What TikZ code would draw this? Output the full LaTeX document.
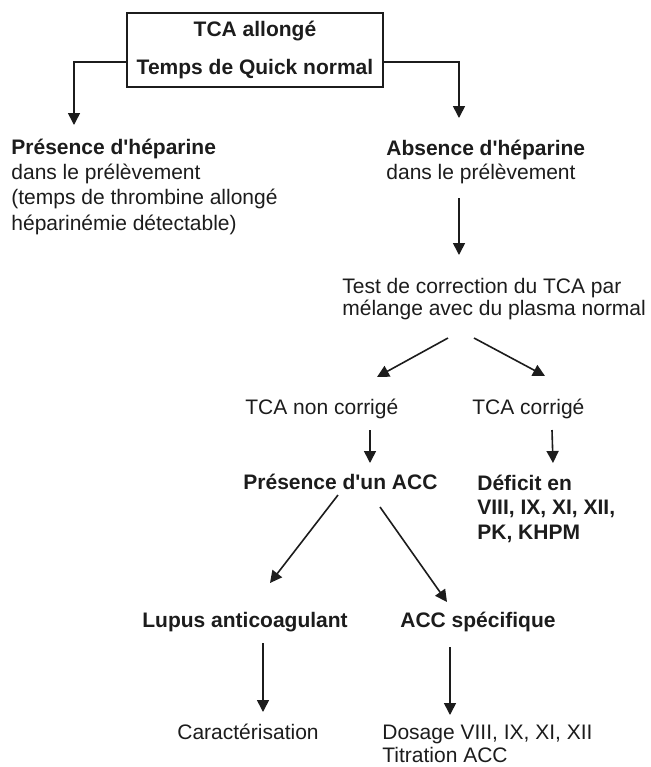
\documentclass[tikz,border=0pt]{standalone}
\usepackage{fontspec}
\setmainfont{Liberation Sans}[Ligatures=TeXOff]
\usetikzlibrary{positioning, calc, arrows.meta}
\definecolor{ink}{RGB}{28,28,28}

\begin{document}
\begin{tikzpicture}[x=0.5pt, y=-0.5pt,
	every node/.style={font=\fontsize{10.5}{11.5}\selectfont, inner sep=0pt, text=ink},
	txt/.style={anchor=base west, align=left},
	arr/.style={draw=ink, line width=0.8pt, -{Triangle[length=6pt, width=6pt]}}]
	\useasboundingbox (0, 0) rectangle (650, 767);
	\node[draw=ink, line width=0.75pt, minimum width=128pt, minimum height=37pt, align=center, font=\fontsize{10.5}{11.5}\selectfont\bfseries]
		(top) at (255, 50) {TCA allongé\\[7.5pt]Temps de Quick normal};
	\node[txt, font=\fontsize{10.5}{12.65}\selectfont] (pres) at (11, 230) {\textbf{Présence d'héparine}\\dans le prélèvement\\(temps de thrombine allongé\\héparinémie détectable)};
	\node[txt, font=\fontsize{10.5}{12}\selectfont] (abs) at (386, 179) {\textbf{Absence d'héparine}\\dans le prélèvement};
	\node[txt, font=\fontsize{10.5}{11}\selectfont] (test) at (342, 315) {Test de correction du TCA par\\mélange avec du plasma normal};
	\node[txt] (nc) at (245, 414) {TCA non corrigé};
	\node[txt] (cor) at (472, 414) {TCA corrigé};
	\node[txt, font=\fontsize{10.5}{11.5}\selectfont\bfseries] (acc) at (243, 489) {Présence d'un ACC};
	\node[txt, font=\fontsize{10.5}{12.2}\selectfont\bfseries] (def) at (477, 539) {Déficit en\\VIII, IX, XI, XII,\\PK, KHPM};
	\node[txt, font=\fontsize{10.5}{11.5}\selectfont\bfseries] (lupus) at (142, 627) {Lupus anticoagulant};
	\node[txt, font=\fontsize{10.5}{11.5}\selectfont\bfseries] (spec) at (400, 627) {ACC spécifique};
	\node[txt] (car) at (177, 739) {Caractérisation};
	\node[txt] (dos) at (382, 762) {Dosage VIII, IX, XI, XII\\Titration ACC};
	\draw[arr] ([yshift=-6pt]top.west) -| ($(pres.base west)+(63,-105)$);
	\draw[arr] ([yshift=-6pt]top.east) -| ($(abs.base west)+(73,-61)$);
	\draw[arr] ($(abs.base west)+(73,19)$) -- ($(test.base west)+(117,-60)$);
	\draw[arr] ($(test.base west)+(106,23)$) -- ($(nc.base west)+(132,-37)$);
	\draw[arr] ($(test.base west)+(132,23)$) -- ($(cor.base west)+(73,-38)$);
	\draw[arr] ($(nc.base west)+(125,16)$) -- ($(acc.base west)+(127,-26)$);
	\draw[arr] ($(cor.base west)+(80,16)$) -- ($(def.base west)+(76,-76)$);
	\draw[arr] ($(acc.base west)+(95,6)$) -- ($(lupus.base west)+(128,-44)$);
	\draw[arr] ($(acc.base west)+(137,18)$) -- ($(spec.base west)+(47,-25)$);
	\draw[arr] ($(lupus.base west)+(121,16)$) -- ($(car.base west)+(86,-27)$);
	\draw[arr] ($(spec.base west)+(50,20)$) -- ($(dos.base west)+(68,-47)$);
\end{tikzpicture}
\end{document}
